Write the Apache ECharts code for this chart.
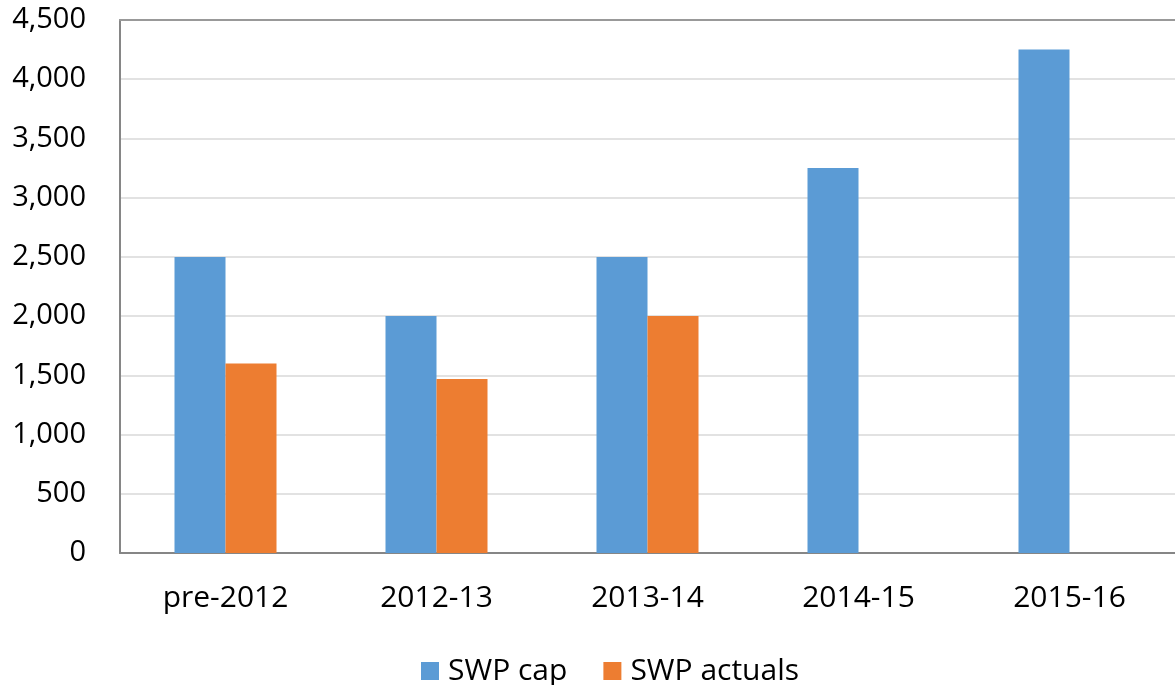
<!DOCTYPE html>
<html>
<head>
<meta charset="utf-8">
<script src="https://cdn.jsdelivr.net/npm/echarts@6/dist/echarts.min.js"></script>
<style>html,body{margin:0;padding:0;background:#fff}#c{width:1175px;height:685px}</style>
</head>
<body>
<div id="c"></div>
<script>
const categories = ['pre-2012', '2012-13', '2013-14', '2014-15', '2015-16'];
const swpCap = [2500, 2000, 2500, 3250, 4250];
const swpActuals = [1600, 1470, 2000, null, null];
const yTicks = { min: 0, max: 4500, interval: 500 };

const FONT = '"Open Sans", "Noto Sans", sans-serif';
const chart = echarts.init(document.getElementById('c'), null, { renderer: 'canvas' });
chart.setOption({
  animation: false,
  backgroundColor: '#ffffff',
  grid: { left: 120, right: 0, top: 20, bottom: 132, containLabel: false },
  legend: {
    left: 421, top: 656, padding: 0,
    itemWidth: 18, itemHeight: 18, itemGap: 36,
    icon: 'rect',
    textStyle: { fontFamily: FONT, fontSize: 30, color: '#000', padding: [0, 0, 0, 4] },
    data: ['SWP cap', 'SWP actuals']
  },
  xAxis: [{
    type: 'category',
    data: categories,
    axisLine: { lineStyle: { color: '#868686', width: 2 } },
    axisTick: { show: false },
    axisLabel: { fontFamily: FONT, fontSize: 30, color: '#000', margin: 30 }
  }, {
    type: 'category',
    position: 'top',
    data: categories,
    axisLine: { show: true, lineStyle: { color: '#999999', width: 2 } },
    axisTick: { show: false },
    axisLabel: { show: false }
  }],
  yAxis: {
    type: 'value',
    min: yTicks.min, max: yTicks.max, interval: yTicks.interval,
    axisLine: { show: true, lineStyle: { color: '#868686', width: 2 } },
    axisTick: { show: false },
    splitLine: { lineStyle: { color: '#d9d9d9', width: 1.5 } },
    axisLabel: {
      fontFamily: FONT, fontSize: 29, color: '#000', margin: 34,
      formatter: v => v.toLocaleString('en-US')
    }
  },
  series: [{
    name: 'SWP cap', type: 'bar', data: swpCap,
    barWidth: 51, barGap: '0%',
    itemStyle: { color: '#5B9BD5' }
  }, {
    name: 'SWP actuals', type: 'bar', data: swpActuals,
    barWidth: 51,
    itemStyle: { color: '#ED7D31' }
  }]
});
</script>
</body>
</html>
